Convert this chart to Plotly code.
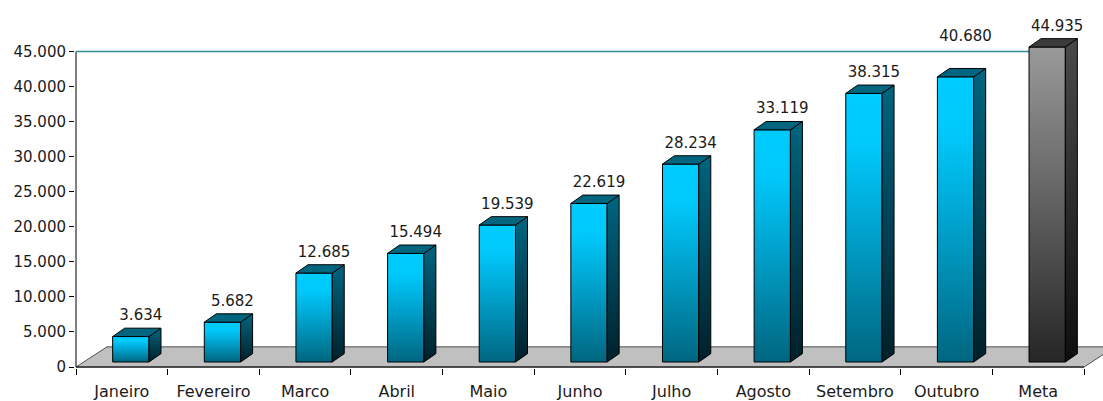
import plotly.graph_objects as go

categories = ["Janeiro", "Fevereiro", "Marco", "Abril", "Maio", "Junho",
              "Julho", "Agosto", "Setembro", "Outubro", "Meta"]
values = [3634, 5682, 12685, 15494, 19539, 22619, 28234, 33119, 38315, 40680, 44935]
y_ticks = [0, 5000, 10000, 15000, 20000, 25000, 30000, 35000, 40000, 45000]
goal_value = 45000

# geometry (pixel scale helpers)
PX_X = 1008 / 11.0          # px per category unit
PX_Y = 320.6 / 45000.0      # px per value unit
ux = lambda px: px / PX_X
uy = lambda px: px / PX_Y

n = len(categories)
xmin = -0.5
xmax_cat = n - 0.5
x_lo = xmin - ux(1)
xmax = xmax_cat + ux(19)
y_lo = -uy(1)
ymax = uy(372)

floor_dx, floor_dy = ux(31), uy(20.5)
bar_off, bar_w = ux(9), ux(36.3)
bar_dx, bar_dy = ux(12), uy(8.5)
base = uy(5.1)
label_off = uy(20.5)

fmt = lambda v: f"{v:,}".replace(",", ".")

fig = go.Figure()

def poly(xs, ys, fill=None, grad=None, line_color="black", width=1):
    kw = dict(x=xs + [xs[0]], y=ys + [ys[0]], mode="lines", fill="toself",
              line=dict(color=line_color, width=width), hoverinfo="skip",
              showlegend=False)
    if grad is not None:
        kw["fillgradient"] = dict(type="vertical", colorscale=grad)
    else:
        kw["fillcolor"] = fill
    fig.add_trace(go.Scatter(**kw))

# floor
poly([xmin, xmax_cat, xmax_cat + floor_dx, xmin + floor_dx],
     [0, 0, floor_dy, floor_dy], fill="#C0C0C0", line_color="#505050")

# x axis line (front edge of floor) and y axis line
fig.add_trace(go.Scatter(x=[xmin, xmax_cat], y=[0, 0], mode="lines",
                         line=dict(color="black", width=1), hoverinfo="skip", showlegend=False))
fig.add_trace(go.Scatter(x=[xmin, xmin], y=[0, goal_value], mode="lines",
                         line=dict(color="black", width=1), hoverinfo="skip", showlegend=False))

# goal line
fig.add_trace(go.Scatter(x=[xmin, n - 1], y=[goal_value, goal_value], mode="lines",
                         line=dict(color="#2F9090", width=1.5), hoverinfo="skip", showlegend=False))

cyan_front = [[0, "#006680"], [0.5, "#00a4cf"], [0.8, "#00c8fa"], [1, "#00ccff"]]
cyan_side = [[0, "#00202a"], [1, "#006580"]]
cyan_top = "#006680"
gray_front = [[0, "#262626"], [1, "#9a9a9a"]]
gray_side = [[0, "#0e0e0e"], [1, "#4a4a4a"]]
gray_top = "#3c3c3c"

lab_x, lab_y, lab_t = [], [], []
for i, v in enumerate(values):
    is_meta = (i == n - 1)
    xf0 = i + bar_off - bar_w / 2
    xf1 = i + bar_off + bar_w / 2
    yb, yt = base, base + v
    poly([xf0, xf1, xf1, xf0], [yb, yb, yt, yt],
         grad=gray_front if is_meta else cyan_front)
    poly([xf1, xf1 + bar_dx, xf1 + bar_dx, xf1], [yb, yb + bar_dy, yt + bar_dy, yt],
         grad=gray_side if is_meta else cyan_side)
    poly([xf0, xf1, xf1 + bar_dx, xf0 + bar_dx], [yt, yt, yt + bar_dy, yt + bar_dy],
         fill=gray_top if is_meta else cyan_top)
    ly = v + label_off + base
    # keep labels clear of the goal line
    if not is_meta and abs(ly - goal_value) < uy(12):
        ly = goal_value + uy(15)
    lab_x.append(i + bar_off + bar_dx / 2 + ux(4))
    lab_y.append(ly)
    lab_t.append(fmt(v))

fig.add_trace(go.Scatter(x=lab_x, y=lab_y, text=lab_t, mode="text",
                         textposition="middle center", cliponaxis=False,
                         textfont=dict(family="DejaVu Sans", size=15, color="#1a1a1a"),
                         hoverinfo="skip", showlegend=False))

# dummy trace for category label axis
fig.add_trace(go.Scatter(x=[0], y=[0], xaxis="x2", mode="markers",
                         marker=dict(opacity=0), hoverinfo="skip", showlegend=False))

fig.update_layout(
    width=1103, height=401,
    margin=dict(l=75, r=0, t=1, b=27),
    paper_bgcolor="white", plot_bgcolor="white",
    separators=",.",
    showlegend=False,
    xaxis=dict(range=[x_lo, xmax], showgrid=False, zeroline=False, showline=False,
               tickvals=[k - 0.5 for k in range(n + 1)], ticktext=[""] * (n + 1),
               ticks="outside", ticklen=6, tickcolor="black", tickwidth=1),
    xaxis2=dict(range=[x_lo, xmax], overlaying="x", anchor="y", side="bottom",
                showgrid=False, zeroline=False, showline=False,
                tickvals=list(range(n)), ticktext=categories,
                ticks="outside", ticklen=9, tickcolor="rgba(0,0,0,0)",
                tickfont=dict(family="DejaVu Sans", size=16, color="#1a1a1a")),
    yaxis=dict(range=[y_lo, ymax], showgrid=False, zeroline=False, showline=False,
               tickvals=y_ticks, tickformat=",", ticks="outside", ticklen=5,
               tickcolor="black", tickwidth=1,
               tickfont=dict(family="DejaVu Sans", size=15, color="#1a1a1a")),
)

fig.write_html("out.html", config={"displayModeBar": False},
               post_script="document.body.style.margin='0';")
